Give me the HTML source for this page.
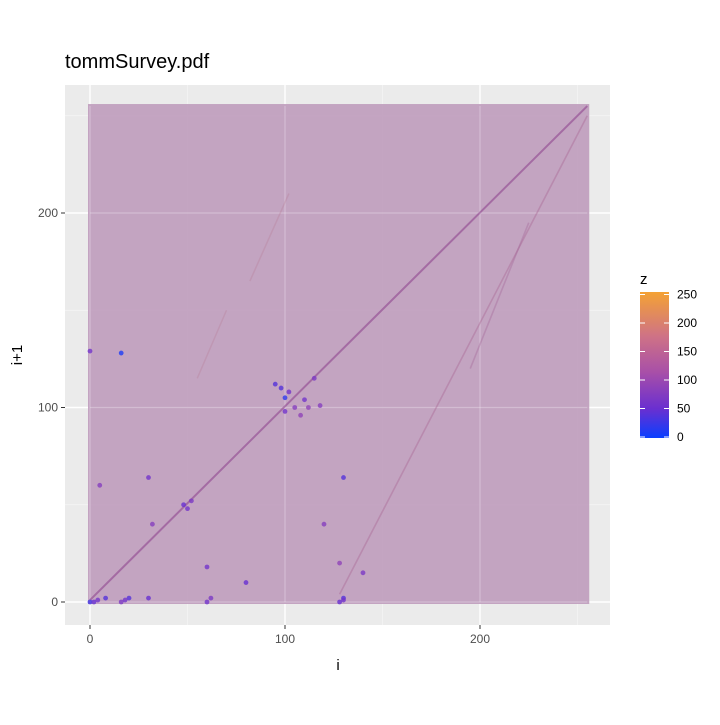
<!DOCTYPE html>
<html><head><meta charset="utf-8"><style>
body{margin:0;background:#fff;font-family:"Liberation Sans",Arial,sans-serif}
</style></head><body>
<svg id="chart" width="720" height="720" xmlns="http://www.w3.org/2000/svg" font-family="Liberation Sans, Arial, sans-serif">
<rect width="720" height="720" fill="#fff"/>
<text x="65" y="68" font-size="20" fill="#000">tommSurvey.pdf</text>
<rect x="65" y="85" width="545" height="540" fill="#ebebeb"/>
<g id="grid"></g>
<g id="marks"></g>
<g id="axes"></g>
<defs><linearGradient id="cbar" x1="0" y1="1" x2="0" y2="0">
<stop offset="0" stop-color="#0a3fff"/><stop offset="0.2" stop-color="#6a2fd0"/><stop offset="0.45" stop-color="#a84fa8"/><stop offset="0.7" stop-color="#cf7385"/><stop offset="1" stop-color="#f4a234"/></linearGradient></defs>
<text x="640" y="284" font-size="15">z</text>
<rect x="640" y="292" width="29" height="146" fill="url(#cbar)"/>
<g id="legend"></g>
<text x="338" y="670" font-size="15" text-anchor="middle">i</text>
<text x="22" y="355" font-size="15" text-anchor="middle" transform="rotate(-90 22 355)">i+1</text>
</svg>
<script>
const xTicks=[0,100,200];
const yTicks=[0,100,200];
const legendTicks=[0,50,100,150,200,250];
const diagI=[0,255];
const diagJ=[1,255];
const line2I=[128,255];
const line2J=[4,250];
const line3I=[195,225];
const line3J=[120,195];
const line4I=[82,102];
const line4J=[165,210];
const line5I=[55,70];
const line5J=[115,150];
const hiI=[100,98,102,105,110,115,112,118,100,95,108,16,0,5,48,50,52,30,32,130,140,120,128,0,20,60,80,130,2,4,8,16,18,30,60,62,128,130];
const hiJ=[105,110,108,100,104,115,100,101,98,112,96,128,129,60,50,48,52,64,40,2,15,40,20,0,2,18,10,64,0,1,2,0,1,2,0,2,0,1];
const hiZ=[20,40,60,80,60,70,90,80,60,40,90,10,60,80,50,60,70,60,80,40,70,80,90,30,40,60,50,40,50,60,40,70,60,50,60,70,50,60];
const ns="http://www.w3.org/2000/svg";
const X=v=>90+v*1.95, Y=v=>602-v*1.945, LY=v=>437-v*0.57;
function col(z){const t=z/255;const s=[[0,[10,63,255]],[.2,[106,47,208]],[.45,[168,79,168]],[.7,[207,115,133]],[1,[244,162,52]]];
for(let k=1;k<s.length;k++){if(t<=s[k][0]){const a=s[k-1],b=s[k],f=(t-a[0])/(b[0]-a[0]);return `rgb(${a[1].map((c,i)=>Math.round(c+(b[1][i]-c)*f)).join(',')})`;}}return 'rgb(244,162,52)';}
function mk(tag,at,p){const e=document.createElementNS(ns,tag);for(const k in at)e.setAttribute(k,at[k]);p.appendChild(e);return e;}
const grid=document.getElementById('grid'),marks=document.getElementById('marks'),axes=document.getElementById('axes'),legend=document.getElementById('legend');
[50,150,250].forEach(v=>{mk('line',{x1:X(v),x2:X(v),y1:85,y2:625,stroke:'#f5f5f5','stroke-width':0.7},grid);mk('line',{y1:Y(v),y2:Y(v),x1:65,x2:610,stroke:'#f5f5f5','stroke-width':0.7},grid);});
xTicks.forEach(v=>{
mk('line',{x1:X(v),x2:X(v),y1:85,y2:625,stroke:'#fff','stroke-width':1.4},grid);
mk('line',{x1:X(v),x2:X(v),y1:625,y2:629,stroke:'#333'},axes);
const l=mk('text',{x:X(v),y:643,'font-size':12,'text-anchor':'middle',fill:'#4d4d4d'},axes);l.textContent=v;
});
yTicks.forEach(v=>{
mk('line',{y1:Y(v),y2:Y(v),x1:65,x2:610,stroke:'#fff','stroke-width':1.4},grid);
mk('line',{y1:Y(v),y2:Y(v),x1:61,x2:65,stroke:'#333'},axes);
const l=mk('text',{x:58,y:Y(v)+4,'font-size':12,'text-anchor':'end',fill:'#4d4d4d'},axes);l.textContent=v;
});
const cloud=mk('rect',{x:X(0)-2,y:Y(255)-2,width:X(255)-X(0)+4,height:Y(0)-Y(255)+4,fill:'#bf9cbd','fill-opacity':0.9},marks);

xTicks.forEach(v=>{const g=mk('line',{x1:X(v),x2:X(v),y1:Y(255),y2:Y(0),stroke:'#fff','stroke-width':1.2,'stroke-opacity':0.25},marks);});
yTicks.forEach(v=>{const g=mk('line',{y1:Y(v),y2:Y(v),x1:X(0),x2:X(255),stroke:'#fff','stroke-width':1.2,'stroke-opacity':0.25},marks);});
[[diagI,diagJ,'#8a3c8a',2,0.55],[line2I,line2J,'#a86590',1.6,0.4],[line3I,line3J,'#a06095',1.6,0.35],[line4I,line4J,'#b57a95',1.5,0.3],[line5I,line5J,'#b57a95',1.5,0.3]].forEach(([a,b,c,w,o],k)=>{
const l=mk('line',{x1:X(a[0]),y1:Y(b[0]),x2:X(a[1]),y2:Y(b[1]),stroke:c,'stroke-width':w,'stroke-opacity':o},marks);
});
hiI.forEach((v,k)=>{const c=mk('circle',{cx:X(v),cy:Y(hiJ[k]),r:2.4,fill:col(hiZ[k]),'fill-opacity':0.8},marks);
});
legendTicks.forEach(v=>{mk('line',{x1:640,x2:645,y1:LY(v),y2:LY(v),stroke:'#fff'},legend);mk('line',{x1:664,x2:669,y1:LY(v),y2:LY(v),stroke:'#fff'},legend);
const l=mk('text',{x:677,y:LY(v)+4,'font-size':12,fill:'#000'},legend);l.textContent=v;
});
</script>
</body></html>
